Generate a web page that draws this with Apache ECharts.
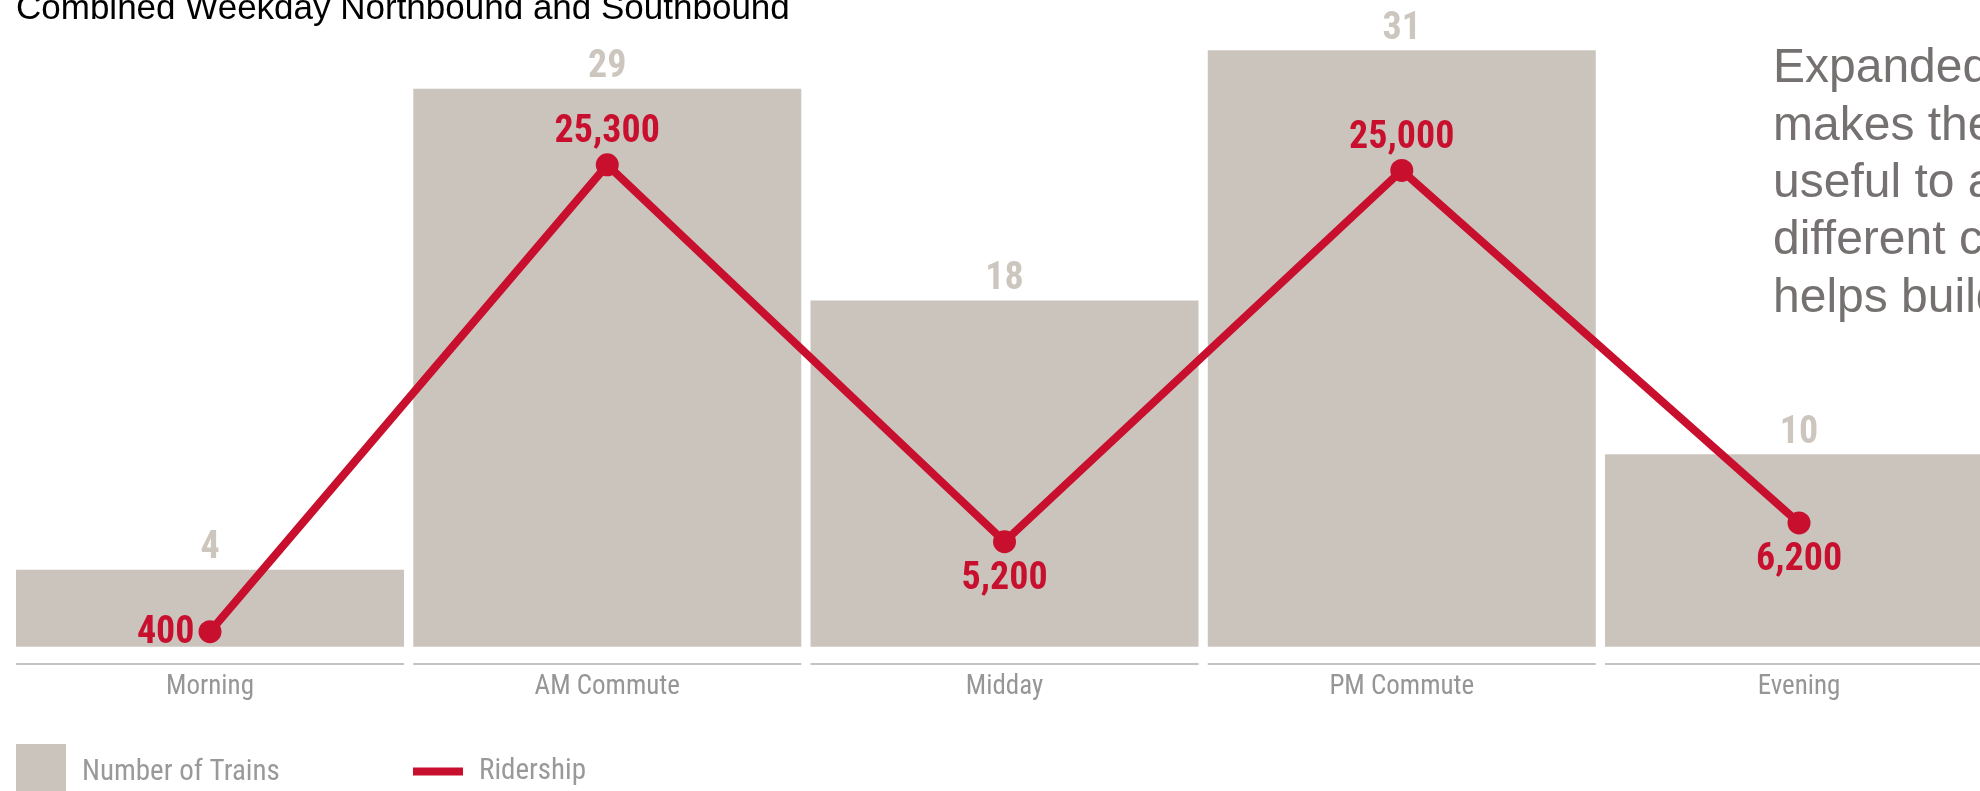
<!DOCTYPE html>
<html>
<head>
<meta charset="utf-8">
<script src="https://cdn.jsdelivr.net/npm/echarts@6/dist/echarts.min.js"></script>
<style>
html,body{margin:0;padding:0;background:#fff;}
#chart{width:1980px;height:791px;}
</style>
</head>
<body>
<div id="chart"></div>
<script>
// ---- data ----
const categories = ['Morning', 'AM Commute', 'Midday', 'PM Commute', 'Evening'];
const trains = [4, 29, 18, 31, 10];
const ridership = [400, 25300, 5200, 25000, 6200];
const baselineSegments = [1, 1, 1, 1, 1];
const titleText = 'Combined Weekday Northbound and Southbound';
const noteLines = ['Expanded', 'makes the', 'useful to a', 'different c', 'helps build'];

// ---- styling ----
const COND = "'Roboto Condensed', 'Liberation Sans Narrow', 'DejaVu Sans Condensed', Roboto, sans-serif";
const BAR = '#cbc4bd';
const RED = '#c8102e';
const riderLabelPos = ['left', 'top', 'bottom', 'top', 'bottom'];
const riderLabelDist = {left: 4, top: 1.5, bottom: 7};
const riderLabelOffset = {left: [0, 2], top: [0, 0], bottom: [0, 0]};

const chart = echarts.init(document.getElementById('chart'));
const gridLeft = 11.4, gridWidth = 1986.25;

chart.setOption({
  animation: false,
  grid: [
    {left: gridLeft, width: gridWidth, top: 11.8, height: 634.9, outerBoundsMode: 'none', containLabel: false},
    {left: gridLeft, width: gridWidth, top: 663, height: 2, outerBoundsMode: 'none', containLabel: false}
  ],
  xAxis: [
    {type: 'category', data: categories, gridIndex: 0, show: false},
    {type: 'category', data: categories, gridIndex: 1,
     axisLine: {show: false}, axisTick: {show: false},
     axisLabel: {margin: 8.5, fontFamily: COND, fontSize: 27, color: '#969696'}}
  ],
  yAxis: [
    {type: 'value', gridIndex: 0, min: 0, max: 33, show: false},
    {type: 'value', gridIndex: 0, min: -400, max: 33460, show: false},
    {type: 'value', gridIndex: 1, min: 0, max: 1, show: false}
  ],
  legend: [
    {data: ['Number of Trains'], left: 16, top: 744, icon: 'rect', padding: 0,
     itemWidth: 50, itemHeight: 58,
     textStyle: {fontFamily: COND, fontSize: 29, color: '#999999', padding: [0, 0, 0, 11]}},
    {data: ['Ridership'], left: 413, top: 757, icon: 'rect', padding: 0,
     itemWidth: 50, itemHeight: 8,
     textStyle: {fontFamily: COND, fontSize: 29, color: '#999999', padding: [0, 0, 0, 11]}}
  ],
  series: [
    {
      name: 'Number of Trains', type: 'bar', xAxisIndex: 0, yAxisIndex: 0,
      data: trains, barWidth: 388, itemStyle: {color: BAR},
      label: {show: true, position: 'top', distance: 2, fontFamily: COND,
              fontWeight: 'bold', fontSize: 38, color: '#cdc6bf'}
    },
    {
      name: 'Ridership', type: 'line', xAxisIndex: 0, yAxisIndex: 1,
      data: ridership.map((v, i) => ({value: v, label: {
        position: riderLabelPos[i],
        distance: riderLabelDist[riderLabelPos[i]],
        offset: riderLabelOffset[riderLabelPos[i]]}})),
      symbol: 'circle', symbolSize: 23,
      lineStyle: {color: RED, width: 8}, itemStyle: {color: RED},
      label: {show: true, fontFamily: COND, fontWeight: 'bold',
              fontSize: 38, color: RED,
              formatter: p => p.value.toLocaleString('en-US')},
      z: 5
    },
    {
      name: 'baseline', type: 'bar', xAxisIndex: 1, yAxisIndex: 2,
      data: baselineSegments, barWidth: 388, silent: true,
      itemStyle: {color: '#c3c3c3'}
    }
  ],
  graphic: [
    {type: 'text', left: 16, top: -8, silent: true,
     style: {text: titleText, font: "35px 'Liberation Sans', Arial, sans-serif", fill: '#000'}},
    {type: 'text', x: 1773, y: 40.5, silent: true,
     style: {text: noteLines.join('\n'), font: "48px 'Liberation Sans', Arial, sans-serif",
             lineHeight: 57.3, fill: '#767171', verticalAlign: 'top'}}
  ]
});
</script>
</body>
</html>
